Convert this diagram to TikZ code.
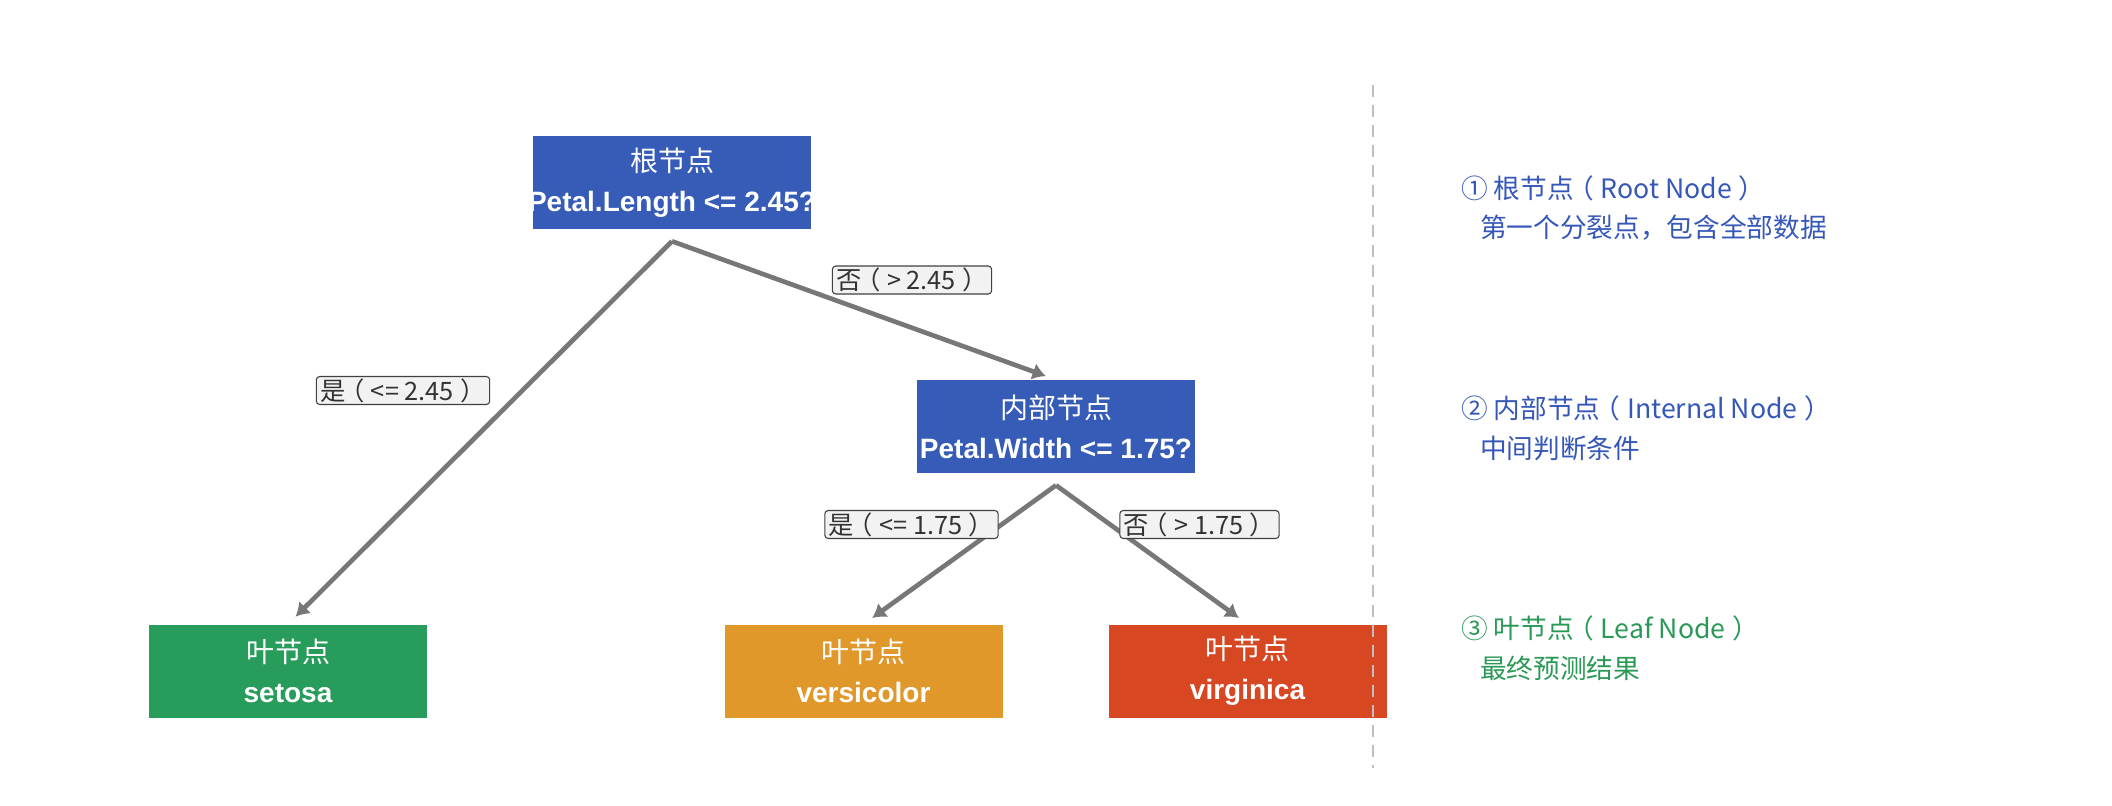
\documentclass[tikz,border=0pt]{standalone}
\usepackage{fontspec}
\setmainfont{Noto Sans CJK SC}
\newfontfamily\arialfont{Liberation Sans}
\usepackage{tikz}
\usetikzlibrary{arrows.meta}
\definecolor{nodeblue}{HTML}{365CB8}
\definecolor{leafgreen}{HTML}{279C5B}
\definecolor{leaforange}{HTML}{E0982B}
\definecolor{leafred}{HTML}{D64722}
\definecolor{edgegray}{HTML}{777777}
\definecolor{legblue}{HTML}{3557B7}
\definecolor{leggreen}{HTML}{2A9955}
\tikzstyle{arrow} = [-{Latex[length=10pt,width=13pt]}, line width=3.5pt, draw=edgegray, shorten >=8pt]
\tikzstyle{treebox} = [minimum width=208.5pt, minimum height=69.75pt, inner sep=0pt, text=white, align=center, font=\fontsize{21}{30}\selectfont]
\tikzstyle{cond} = [draw=black!75, fill=black!5, rounded corners=2.5pt, line width=0.8pt, inner xsep=3pt, inner ysep=1pt, minimum height=21pt, text=black!80, font=\fontsize{19}{21}\selectfont]
\tikzstyle{legend} = [anchor=west, inner sep=0pt, font=\fontsize{20}{24}\selectfont]
\newcommand{\twolines}[2]{\makebox[0pt]{#1}\\\makebox[0pt]{\arialfont\bfseries #2}}
% centred full-width brackets
\newcommand{\lpar}{\hspace{-0.25em}（\hspace{0.25em}}
\newcommand{\rpar}{\hspace{0.25em}）\hspace{-0.25em}}

\begin{document}
\begin{tikzpicture}[x=0.75pt, y=-0.75pt]
\useasboundingbox (0,0) rectangle (2112,806);
% tree
\node[treebox, fill=nodeblue] (root) at (672,182.5) {\twolines{根节点}{Petal.Length <= 2.45?}};
\node[treebox, fill=nodeblue] (inner) at (1056,426.5) {\twolines{内部节点}{Petal.Width <= 1.75?}};
\node[treebox, fill=leafgreen] (setosa) at (288,671) {\twolines{叶节点}{setosa}};
\node[treebox, fill=leaforange] (versicolor) at (863.5,671) {\twolines{叶节点}{versicolor}};
\node[treebox, fill=leafred] (virginica) at (1247.5,671) {\twolines{叶节点}{virginica}};
\coordinate (rootout) at ([yshift=-9pt]root.south);
\coordinate (innerout) at ([yshift=-9pt]inner.south);
\draw[arrow] (rootout) -- (setosa.north);
\draw[arrow] (rootout) -- (inner.north);
\draw[arrow] (innerout) -- (versicolor.north);
\draw[arrow] (innerout) -- (virginica.north);
\node[cond] (yes1) at (403,390.5) {是\lpar<= 2.45\rpar};
\node[cond] (no1) at (912,280) {否\lpar> 2.45\rpar};
\node[cond] (yes2) at (911.5,524.5) {是\lpar<= 1.75\rpar};
\node[cond] (no2) at (1199.5,524.5) {否\lpar> 1.75\rpar};
% divider
\coordinate (top) at (1372.5,85);
\coordinate (bottom) at (1372.5,768);
\draw[black!25, line width=1.5pt, dash pattern=on 9pt off 6pt] (top) -- (bottom);
% legend
\node[legend, text=legblue] (leg1) at (1461,188) {① 根节点\lpar Root Node\rpar};
\node[legend, text=legblue] (leg1b) at (1480,228) {第一个分裂点，包含全部数据};
\node[legend, text=legblue] (leg2) at (1461,408.5) {② 内部节点\lpar Internal Node\rpar};
\node[legend, text=legblue] (leg2b) at (1480,448) {中间判断条件};
\node[legend, text=leggreen] (leg3) at (1461,628) {③ 叶节点\lpar Leaf Node\rpar};
\node[legend, text=leggreen] (leg3b) at (1480,668) {最终预测结果};
\end{tikzpicture}
\end{document}
